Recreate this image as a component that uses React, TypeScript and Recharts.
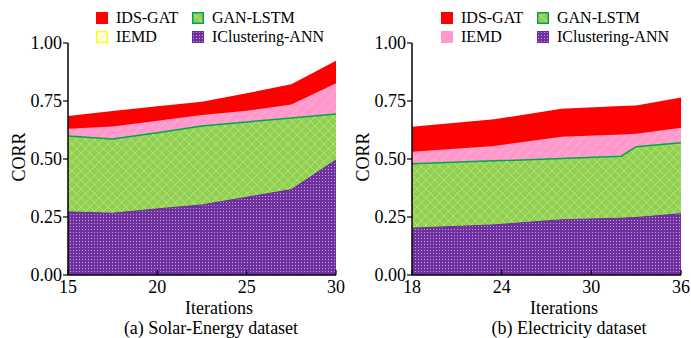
import React from 'react';
import { AreaChart, Area, XAxis, YAxis } from 'recharts';

// Solar-Energy panel (a)
const solarIter = [15, 17.5, 20, 22.5, 25, 27.5, 30];
const solarIdsGat = [0.685, 0.707, 0.727, 0.747, 0.783, 0.822, 0.924];
const solarIemd = [0.63, 0.64, 0.665, 0.69, 0.708, 0.735, 0.826];
const solarGanLstm = [0.599, 0.586, 0.613, 0.642, 0.66, 0.677, 0.694];
const solarIcAnn = [0.272, 0.266, 0.285, 0.302, 0.335, 0.368, 0.496];
const solarTicks = [15, 20, 25, 30];

// Electricity panel (b)
const elecIter = [18, 23.5, 28, 32, 33, 36];
const elecIdsGat = [0.639, 0.671, 0.717, 0.728, 0.731, 0.765];
const elecIemd = [0.531, 0.556, 0.596, 0.606, 0.609, 0.635];
const elecGanLstm = [0.479, 0.492, 0.502, 0.512, 0.553, 0.57];
const elecIcAnn = [0.202, 0.216, 0.238, 0.245, 0.248, 0.264];
const elecTicks = [18, 24, 30, 36];

const corrTicks = [0, 0.25, 0.5, 0.75, 1];

const FONT = '"Liberation Serif", "Times New Roman", serif';

const buildRows = (x: number[], a: number[], b: number[], c: number[], d: number[]) =>
  x.map((v, i) => ({ x: v, idsGat: a[i], iemd: b[i], ganLstm: c[i], icAnn: d[i] }));

const Patterns = ({ p }: { p: string }) => (
  <defs>
    <pattern id={`${p}-pink`} width="7" height="7" patternUnits="userSpaceOnUse" patternTransform="rotate(45)">
      <rect width="7" height="7" fill="#ff99cc" />
      <line x1="0" y1="0" x2="0" y2="7" stroke="#ffffff" strokeOpacity="0.35" strokeWidth="1" />
    </pattern>
    <pattern id={`${p}-green`} width="9" height="9" patternUnits="userSpaceOnUse">
      <rect width="9" height="9" fill="#92d050" />
      <path d="M0 0 L9 9 M9 0 L0 9" stroke="#ffffff" strokeOpacity="0.3" strokeWidth="1" />
    </pattern>
    <pattern id={`${p}-purple`} width="3" height="3" patternUnits="userSpaceOnUse">
      <rect width="3" height="3" fill="#7030a0" />
      <rect x="1" y="1" width="1" height="1" fill="#ffffff" fillOpacity="0.55" />
    </pattern>
  </defs>
);

const Swatch = ({ kind, p }: { kind: string; p: string }) => (
  <svg width={12} height={12} style={{ position: 'absolute', left: 0, top: 0 }}>
    <Patterns p={p} />
    {kind === 'red' && <rect x={0} y={0} width={12} height={12} fill="#ff0000" />}
    {kind === 'green' && <rect x={0.75} y={0.75} width={10.5} height={10.5} fill={`url(#${p}-green)`} stroke="#00a550" strokeWidth={1.5} />}
    {kind === 'purple' && <rect x={0.5} y={0.5} width={11} height={11} fill={`url(#${p}-purple)`} stroke="#6a2c96" strokeWidth={1} />}
    {kind === 'pink' && <rect x={0} y={0} width={12} height={12} fill={`url(#${p}-pink)`} />}
    {kind === 'yellow' && (
      <g>
        <rect x={0.75} y={0.75} width={10.5} height={10.5} fill="#ffffff" stroke="#ffff00" strokeWidth={1.5} />
        <line x1={3} y1={9} x2={9} y2={3} stroke="#ffff00" strokeWidth={1} />
      </g>
    )}
  </svg>
);

const LegendItem = ({ kind, label, left, top, p }: { kind: string; label: string; left: number; top: number; p: string }) => (
  <div style={{ position: 'absolute', left, top, height: 12 }}>
    <Swatch kind={kind} p={p} />
    <span style={{ position: 'absolute', left: 20, top: -4, fontSize: 16, lineHeight: '20px', whiteSpace: 'nowrap', color: '#000' }}>{label}</span>
  </div>
);

interface PanelProps {
  id: string;
  left: number;
  rows: any[];
  domain: [number, number];
  ticks: number[];
  caption: string;
  iemdSwatch: string;
  plotLeft: number;
  labelX: number;
  captionX: number;
}

const Panel = ({ id, left, rows, domain, ticks, caption, iemdSwatch, plotLeft, labelX, captionX }: PanelProps) => (
  <div style={{ position: 'absolute', left, top: 0, width: 345, height: 338 }}>
    <AreaChart width={345} height={338} data={rows} margin={{ top: 43, right: 9, bottom: 38, left: plotLeft - 60 }}>
      <Patterns p={id} />
      <XAxis
        dataKey="x"
        type="number"
        domain={domain}
        ticks={ticks}
        allowDataOverflow
        height={25}
        tickSize={-5}
        tickMargin={10}
        axisLine={{ stroke: '#000', strokeWidth: 1.5 }}
        tickLine={{ stroke: '#000', strokeWidth: 1.2 }}
        tick={{ fill: '#000', fontSize: 18, fontFamily: FONT }}
      />
      <YAxis
        type="number"
        domain={[0, 1]}
        ticks={corrTicks}
        width={60}
        tickSize={5}
        tickMargin={1}
        tickFormatter={(v: number) => v.toFixed(2)}
        axisLine={{ stroke: '#000', strokeWidth: 1.5 }}
        tickLine={{ stroke: '#000', strokeWidth: 1.2 }}
        tick={{ fill: '#000', fontSize: 18, fontFamily: FONT }}
      />
      <Area type="linear" dataKey="idsGat" stroke="none" fill="#ff0000" fillOpacity={1} isAnimationActive={false} />
      <Area type="linear" dataKey="iemd" stroke="none" fill={`url(#${id}-pink)`} fillOpacity={1} isAnimationActive={false} />
      <Area type="linear" dataKey="ganLstm" stroke="#00a550" strokeWidth={1.5} fill={`url(#${id}-green)`} fillOpacity={1} isAnimationActive={false} />
      <Area type="linear" dataKey="icAnn" stroke="#6a2c96" strokeWidth={1} fill={`url(#${id}-purple)`} fillOpacity={1} isAnimationActive={false} />
    </AreaChart>

    <LegendItem kind="red" label="IDS-GAT" left={96} top={12} p={`${id}-l1`} />
    <LegendItem kind="green" label="GAN-LSTM" left={192} top={12} p={`${id}-l2`} />
    <LegendItem kind={iemdSwatch} label="IEMD" left={96} top={31} p={`${id}-l3`} />
    <LegendItem kind="purple" label="IClustering-ANN" left={192} top={31} p={`${id}-l4`} />

    <div style={{ position: 'absolute', left: labelX - 100, width: 200, top: 301, textAlign: 'center', fontSize: 18, lineHeight: '14px' }}>
      Iterations
    </div>
    <div style={{ position: 'absolute', left: captionX - 150, width: 300, top: 321, textAlign: 'center', fontSize: 18, lineHeight: '14px' }}>
      {caption}
    </div>
    <div
      style={{
        position: 'absolute',
        left: 19 + (plotLeft - 68) - 40,
        top: 157 - 11,
        width: 80,
        textAlign: 'center',
        fontSize: 18,
        lineHeight: '22px',
        transform: 'rotate(-90deg)',
      }}
    >
      CORR
    </div>
  </div>
);

export default function App() {
  const solarRows = buildRows(solarIter, solarIdsGat, solarIemd, solarGanLstm, solarIcAnn);
  const elecRows = buildRows(elecIter, elecIdsGat, elecIemd, elecGanLstm, elecIcAnn);
  return (
    <div style={{ position: 'absolute', left: 0, top: 0, width: 691, height: 338, background: '#fff', fontFamily: FONT, color: '#000', overflow: 'hidden' }}>
      <Panel
        id="solar"
        left={0}
        rows={solarRows}
        domain={[15, 30]}
        ticks={solarTicks}
        caption="(a) Solar-Energy dataset"
        iemdSwatch="yellow"
        plotLeft={68}
        labelX={219}
        captionX={211}
      />
      <Panel
        id="elec"
        left={345}
        rows={elecRows}
        domain={[18, 36]}
        ticks={elecTicks}
        caption="(b) Electricity dataset"
        iemdSwatch="pink"
        plotLeft={67}
        labelX={219}
        captionX={224}
      />
    </div>
  );
}
